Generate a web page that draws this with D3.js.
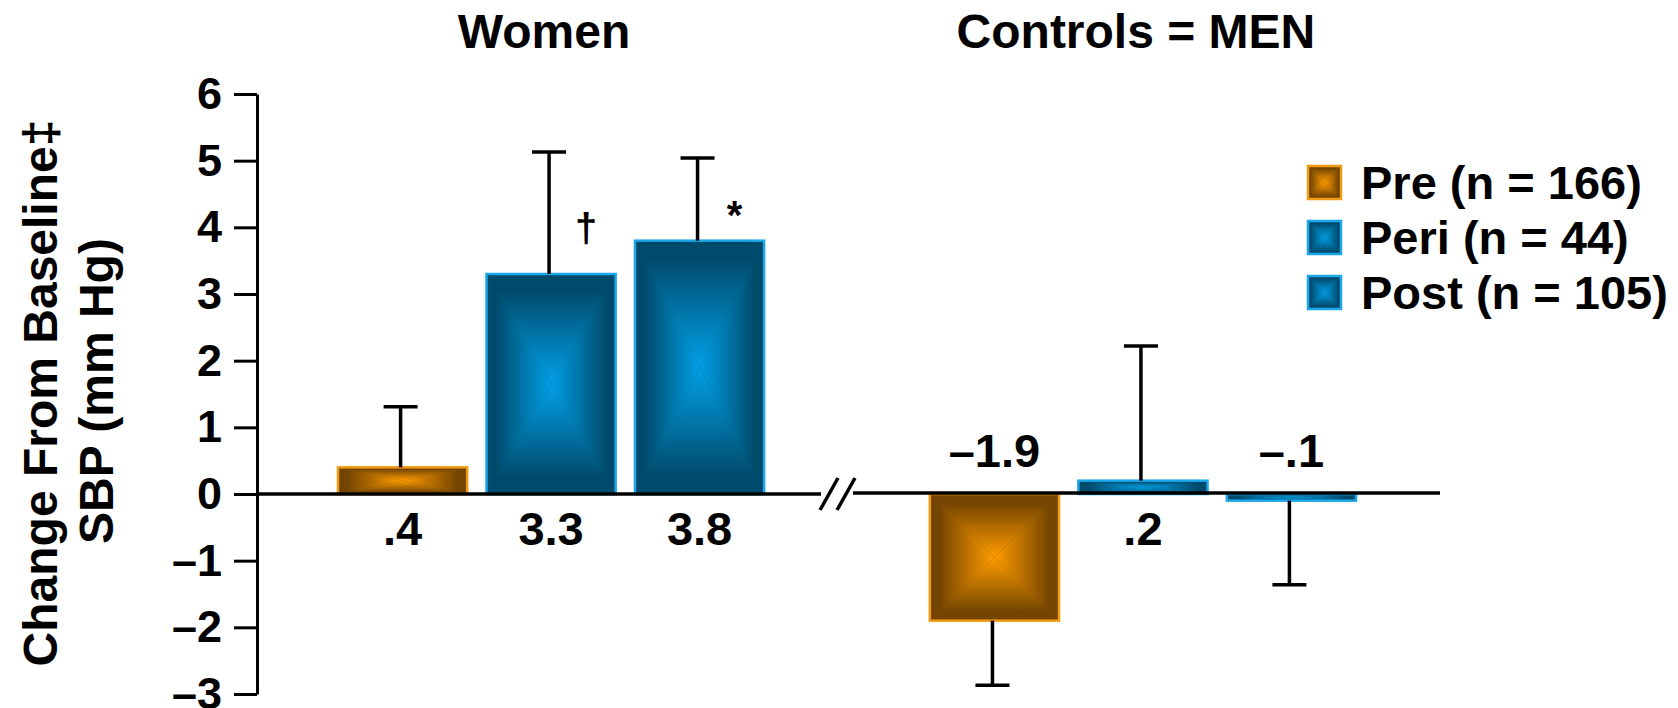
<!DOCTYPE html>
<html>
<head>
<meta charset="utf-8">
<script src="https://cdn.jsdelivr.net/npm/d3@7"></script>
<style>
  body { margin: 0; background: #fff; }
  text { font-family: "Liberation Sans", Arial, sans-serif; font-weight: bold; fill: #000; }
</style>
</head>
<body>
<svg width="1678" height="708"></svg>
<script>
var groups = ['Women', 'Controls = MEN'];
var phases = ['Pre', 'Peri', 'Post'];
var legendLabels = ['Pre (n = 166)', 'Peri (n = 44)', 'Post (n = 105)'];
var womenValues = [0.4, 3.3, 3.8];
var womenSE = [0.91, 1.83, 1.24];
var womenMarks = ['', '\u2020', '*'];
var menValues = [-1.9, 0.2, -0.1];
var menSE = [0.97, 2.02, 1.26];
var menMarks = ['', '', ''];
var yTicks = [-3, -2, -1, 0, 1, 2, 3, 4, 5, 6];

var colors = {
    Pre: { dark: '#744500', bright: '#ff9c00', stroke: '#f39a14' },
    Peri: { dark: '#004b6c', bright: '#00a0e6', stroke: '#1ca7ea' },
    Post: { dark: '#004b6c', bright: '#00a0e6', stroke: '#1ca7ea' }
};

var data = [];
phases.forEach(function (p, i) {
    data.push({ group: groups[0], phase: p, value: womenValues[i], se: womenSE[i], mark: womenMarks[i] });
});
phases.forEach(function (p, i) {
    data.push({ group: groups[1], phase: p, value: menValues[i], se: menSE[i], mark: menMarks[i] });
});

function fmt(v) {
    return (v < 0 ? '\u2013' : '') + String(Math.abs(v)).replace(/^0(?=\.)/, '');
}

var svg = d3.select('svg');
svg.append('rect').attr('width', 1678).attr('height', 708).attr('fill', '#fff');

var y = d3.scaleLinear().domain([-3, 6]).range([694, 94]);

var x0 = d3.scaleBand()
    .domain(groups)
    .range([338, 1356])
    .paddingInner(0.28);

var x1 = d3.scaleBand()
    .domain(phases)
    .range([0, x0.bandwidth()])
    .paddingInner(0.13);

// pyramid gradients, one per colour and side
var defs = svg.append('defs');
var sides = { top: [0, 0, 0, 1], bottom: [0, 1, 0, 0], left: [0, 0, 1, 0], right: [1, 0, 0, 0] };
phases.forEach(function (p) {
    Object.keys(sides).forEach(function (s) {
        var c = sides[s];
        var g = defs.append('linearGradient')
            .attr('id', 'g-' + p + '-' + s)
            .attr('x1', c[0]).attr('y1', c[1]).attr('x2', c[2]).attr('y2', c[3]);
        g.append('stop').attr('offset', 0).attr('stop-color', colors[p].dark);
        g.append('stop').attr('offset', 0.15).attr('stop-color', colors[p].dark);
        g.append('stop').attr('offset', 1).attr('stop-color', colors[p].bright);
    });
});

function pyramid(sel, p, bx, by, w, h) {
    var cx = bx + w / 2, cy = by + h / 2;
    sel.append('rect').attr('x', bx).attr('y', by).attr('width', w).attr('height', h)
        .attr('fill', colors[p].dark);
    var tris = {
        top: [[bx, by], [bx + w, by], [cx, cy]],
        bottom: [[bx, by + h], [bx + w, by + h], [cx, cy]],
        left: [[bx, by], [bx, by + h], [cx, cy]],
        right: [[bx + w, by], [bx + w, by + h], [cx, cy]]
    };
    Object.keys(tris).forEach(function (s) {
        sel.append('path')
            .attr('d', 'M' + tris[s].join('L') + 'Z')
            .attr('fill', 'url(#g-' + p + '-' + s + ')');
    });
    sel.append('rect').attr('x', bx).attr('y', by).attr('width', w).attr('height', h)
        .attr('fill', 'none')
        .attr('stroke', colors[p].stroke)
        .attr('stroke-width', 2.5);
}

// y axis
var yAxis = d3.axisLeft(y)
    .tickValues(yTicks)
    .tickSize(23)
    .tickSizeOuter(0)
    .tickPadding(12)
    .tickFormat(function (d) { return d < 0 ? '\u2013' + Math.abs(d) : d; });

var axisG = svg.append('g')
    .attr('transform', 'translate(257,0)')
    .call(yAxis);
axisG.select('.domain').attr('stroke', '#000').attr('stroke-width', 3);
axisG.selectAll('.tick line').attr('stroke', '#000').attr('stroke-width', 3);
axisG.selectAll('.tick text')
    .attr('font-size', 45)
    .attr('font-family', '"Liberation Sans", Arial, sans-serif')
    .attr('font-weight', 'bold')
    .attr('fill', '#000');

// axis title
svg.append('text')
    .attr('transform', 'translate(57,393) rotate(-90)')
    .attr('text-anchor', 'middle')
    .attr('font-size', 48)
    .text('Change From Baseline\u2021');
svg.append('text')
    .attr('transform', 'translate(113,391) rotate(-90)')
    .attr('text-anchor', 'middle')
    .attr('font-size', 48)
    .text('SBP (mm Hg)');

// bars
var bars = svg.selectAll('.bar')
    .data(data)
    .enter().append('g')
    .attr('class', 'bar');

bars.each(function (d) {
    var bx = x0(d.group) + x1(d.phase);
    var top = y(Math.max(0, d.value));
    var h = Math.abs(y(d.value) - y(0));
    pyramid(d3.select(this), d.phase, bx, top, x1.bandwidth(), h);
});

// zero line with break
var y0 = y(0);
var breakX = (x0(groups[0]) + x0.bandwidth() + x0(groups[1])) / 2 - 8;
svg.append('line')
    .attr('x1', 257).attr('x2', breakX - 18)
    .attr('y1', y0).attr('y2', y0)
    .attr('stroke', '#000').attr('stroke-width', 3.5);
svg.append('line')
    .attr('x1', breakX + 14).attr('x2', x0(groups[1]) + x0.bandwidth() + 84)
    .attr('y1', y0 - 1).attr('y2', y0 - 1)
    .attr('stroke', '#000').attr('stroke-width', 3.5);
[-10, 7].forEach(function (o) {
    svg.append('line')
        .attr('x1', breakX + o - 9).attr('y1', y0 + 16)
        .attr('x2', breakX + o + 9).attr('y2', y0 - 16)
        .attr('stroke', '#000').attr('stroke-width', 3.5);
});

// error bars
var err = svg.selectAll('.err')
    .data(data)
    .enter().append('g')
    .attr('class', 'err');

err.append('line')
    .attr('x1', function (d) { return x0(d.group) + x1(d.phase) + x1.bandwidth() / 2 - 2; })
    .attr('x2', function (d) { return x0(d.group) + x1(d.phase) + x1.bandwidth() / 2 - 2; })
    .attr('y1', function (d) { return y(d.value); })
    .attr('y2', function (d) { return y(d.value + (d.value < 0 ? -d.se : d.se)); })
    .attr('stroke', '#000').attr('stroke-width', 3.5);

err.append('line')
    .attr('x1', function (d) { return x0(d.group) + x1(d.phase) + x1.bandwidth() / 2 - 19; })
    .attr('x2', function (d) { return x0(d.group) + x1(d.phase) + x1.bandwidth() / 2 + 15; })
    .attr('y1', function (d) { return y(d.value + (d.value < 0 ? -d.se : d.se)); })
    .attr('y2', function (d) { return y(d.value + (d.value < 0 ? -d.se : d.se)); })
    .attr('stroke', '#000').attr('stroke-width', 3.5);

// value labels
svg.selectAll('.val')
    .data(data)
    .enter().append('text')
    .attr('class', 'val')
    .attr('x', function (d) { return x0(d.group) + x1(d.phase) + x1.bandwidth() / 2; })
    .attr('y', function (d) { return d.value < 0 ? y0 - 27 : y0 + 51; })
    .attr('text-anchor', 'middle')
    .attr('font-size', 47)
    .text(function (d) { return fmt(d.value); });

// significance marks
svg.selectAll('.mark')
    .data(data.filter(function (d) { return d.mark; }))
    .enter().append('text')
    .attr('class', 'mark')
    .attr('x', function (d) { return x0(d.group) + x1(d.phase) + x1.bandwidth() / 2 + 35; })
    .attr('y', function (d) { return d.mark === '*' ? y(d.value) - 12 : y(d.value) - 32; })
    .attr('text-anchor', 'middle')
    .attr('font-size', 40)
    .text(function (d) { return d.mark; });

// group titles
svg.selectAll('.title')
    .data(groups)
    .enter().append('text')
    .attr('class', 'title')
    .attr('x', function (d) { return x0(d) + x0.bandwidth() / 2 - 7; })
    .attr('y', 48)
    .attr('text-anchor', 'middle')
    .attr('font-size', 48)
    .text(function (d) { return d; });

// legend
var legend = svg.selectAll('.legend')
    .data(phases)
    .enter().append('g')
    .attr('class', 'legend')
    .attr('transform', function (d, i) { return 'translate(1308,' + (166 + i * 55) + ')'; });

legend.each(function (d) {
    pyramid(d3.select(this), d, 0, 0, 33, 33);
});

legend.append('text')
    .attr('x', 53)
    .attr('y', 17)
    .attr('dy', '.35em')
    .attr('font-size', 47)
    .text(function (d, i) { return legendLabels[i]; });
</script>
</body>
</html>
